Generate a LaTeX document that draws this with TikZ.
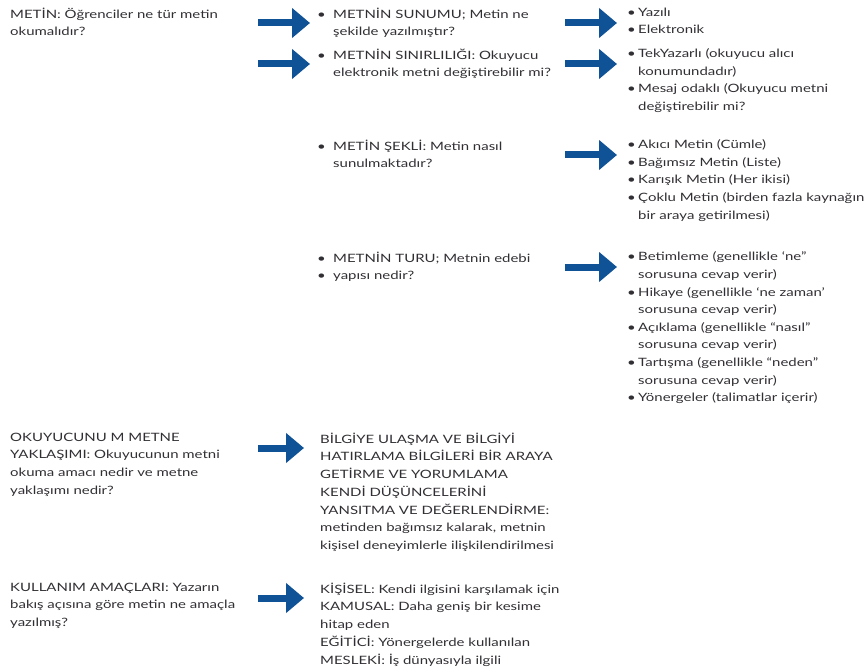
\documentclass[tikz,border=0pt]{standalone}
\usepackage{fontspec}
\setmainfont{Lato}[FakeStretch=1.3]
\usetikzlibrary{arrows.meta,positioning}
\definecolor{arrowblue}{RGB}{16,82,150}
\definecolor{textgray}{RGB}{50,47,52}
\newcommand{\midbul}{\makebox[16pt][l]{\textbullet}}
\newcommand{\rbul}{\makebox[11pt][l]{\textbullet}}
\newcommand{\midind}{\hspace*{16pt}}
\newcommand{\rind}{\hspace*{11pt}}
\tikzset{
  lbl/.style={anchor=north west, yshift=12.32pt, align=left, inner sep=0pt, text=textgray,
    font=\fontsize{11.5}{17.6}\selectfont, execute at begin node=\strut},
  lowlbl/.style={lbl, yshift=0.07pt, font=\fontsize{11.5}{17.7}\selectfont},
  bigarrow/.style={arrowblue, line width=7pt, -{Triangle[length=18pt,width=29pt]}},
}
\begin{document}
\begin{tikzpicture}[x=1pt,y=-1pt]
    \useasboundingbox (0,0) rectangle (866,671);

    % Draw nodes
    \node[lbl] (metin) at (10,20) {METİN: Öğrenciler ne tür metin\\okumalıdır?};
    \node[lbl] (sunum) at (317,20) {\midbul METNİN SUNUMU; Metin ne\\\midind şekilde yazılmıştır?};
    \node[lbl] (sinir) at (317,61) {\midbul METNİN SINIRLILIĞI: Okuyucu\\\midind elektronik metni değiştirebilir mi?};
    \node[lbl] (sekil) at (317,152) {\midbul METİN ŞEKLİ: Metin nasıl\\\midind sunulmaktadır?};
    \node[lbl] (tur) at (317,264) {\midbul METNİN TURU; Metnin edebi\\\midbul yapısı nedir?};

    \node[lbl] (sunumlist) at (627,20) {\rbul Yazılı\\\rbul Elektronik};
    \node[lbl] (sinirlist) at (627,61) {\rbul TekYazarlı (okuyucu alıcı\\\rind konumundadır)\\\rbul Mesaj odaklı (Okuyucu metni\\\rind değiştirebilir mi?};
    \node[lbl] (sekillist) at (627,152) {\rbul Akıcı Metin (Cümle)\\\rbul Bağımsız Metin (Liste)\\\rbul Karışık Metin (Her ikisi)\\\rbul Çoklu Metin (birden fazla kaynağın\\\rind bir araya getirilmesi)};
    \node[lbl] (turlist) at (627,264) {\rbul Betimleme (genellikle ‘ne”\\\rind sorusuna cevap verir)\\\rbul Hikaye (genellikle ‘ne zaman’\\\rind sorusuna cevap verir)\\\rbul Açıklama (genellikle “nasıl”\\\rind sorusuna cevap verir)\\\rbul Tartışma (genellikle “neden”\\\rind sorusuna cevap verir)\\\rbul Yönergeler (talimatlar içerir)};

    \node[lowlbl] (okuyucu) at (10,445) {OKUYUCUNU M METNE\\YAKLAŞIMI: Okuyucunun metni\\okuma amacı nedir ve metne\\yaklaşımı nedir?};
    \node[lowlbl] (bilgi) at (320,445) {BİLGİYE ULAŞMA VE BİLGİYİ\\HATIRLAMA BİLGİLERİ BİR ARAYA\\GETİRME VE YORUMLAMA\\KENDİ DÜŞÜNCELERİNİ\\YANSITMA VE DEĞERLENDİRME:\\metinden bağımsız kalarak, metnin\\kişisel deneyimlerle ilişkilendirilmesi};
    \node[lowlbl] (kullanim) at (10,595) {KULLANIM AMAÇLARI: Yazarın\\bakış açısına göre metin ne amaçla\\yazılmış?};
    \node[lowlbl] (kisisel) at (320,595) {KİŞİSEL: Kendi ilgisini karşılamak için\\KAMUSAL: Daha geniş bir kesime\\hitap eden\\EĞİTİCİ: Yönergelerde kullanılan\\MESLEKİ: İş dünyasıyla ilgili};

    % Arrow tails
    \coordinate (a1) at (258,23);
    \coordinate (a2) at (258,64);
    \coordinate (b1) at (565,23);
    \coordinate (b2) at (565,64);
    \coordinate (b3) at (565,155);
    \coordinate (c1) at (565,267);
    \coordinate (d1) at (258,448);
    \coordinate (e1) at (258,598);

    % Draw arrows
    \draw[bigarrow, shorten >=7pt] (a1) -- (a1 -| sunum.west);
    \draw[bigarrow, shorten >=7pt] (a2) -- (a2 -| sinir.west);
    \draw[bigarrow, shorten >=10pt] (b1) -- (b1 -| sunumlist.west);
    \draw[bigarrow, shorten >=10pt] (b2) -- (b2 -| sinirlist.west);
    \draw[bigarrow, shorten >=10pt] (b3) -- (b3 -| sekillist.west);
    \draw[bigarrow, shorten >=10pt] (c1) -- (c1 -| turlist.west);
    \draw[bigarrow, shorten >=16pt] (d1) -- (d1 -| bilgi.west);
    \draw[bigarrow, shorten >=16pt] (e1) -- (e1 -| kisisel.west);
\end{tikzpicture}
\end{document}
